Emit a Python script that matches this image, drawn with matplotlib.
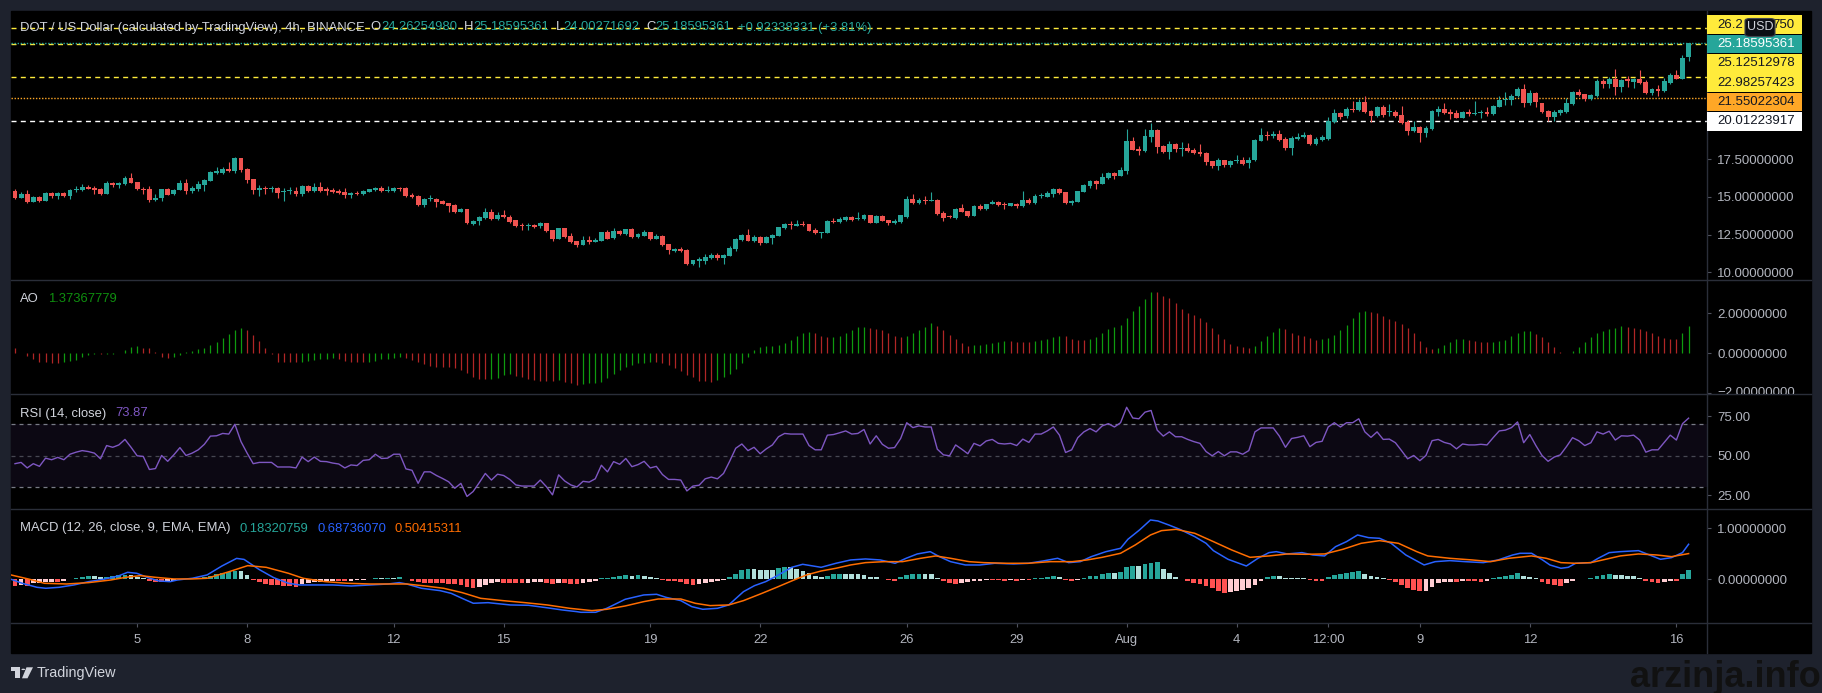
import numpy as np
import pandas as pd
import matplotlib
matplotlib.use("Agg")  # headless
import matplotlib.pyplot as plt
from matplotlib.lines import Line2D
from matplotlib.patches import Rectangle, FancyBboxPatch, Polygon, Circle
from matplotlib.transforms import Bbox, TransformedBbox

plt.rcParams["font.family"] = ["Liberation Sans", "DejaVu Sans"]

# ---------------------------------------------------------------------------
# DOT / USD, 4h candles, BINANCE
# ---------------------------------------------------------------------------
FIRST_BAR = pd.Timestamp("2021-07-01 16:00")

opens = [
    15.39, 14.95, 15.19, 14.69, 14.99, 14.75, 15.26, 15.06, 15.26, 15.06,
    15.46, 15.46, 15.66, 15.60, 15.55, 15.20, 15.95, 15.82, 15.86, 16.26,
    15.99, 15.55, 15.55, 14.80, 14.93, 15.53, 15.20, 15.46, 15.93, 15.40,
    15.53, 15.79, 16.06, 16.60, 16.61, 16.86, 16.75, 17.59, 16.86, 16.19,
    15.46, 15.60, 15.55, 15.60, 15.33, 15.37, 15.37, 15.20, 15.73, 15.39,
    15.66, 15.53, 15.48, 15.42, 15.33, 15.10, 15.26, 15.20, 15.33, 15.46,
    15.60, 15.39, 15.42, 15.60, 15.60, 15.13, 15.06, 14.46, 14.84, 14.86,
    14.73, 14.60, 14.46, 14.00, 14.20, 13.20, 13.40, 13.60, 14.00, 13.53,
    13.80, 13.69, 13.47, 13.13, 13.07, 13.13, 13.07, 13.27, 12.80, 12.20,
    12.94, 12.40, 12.07, 11.81, 12.14, 12.00, 12.07, 12.67, 12.27, 12.74,
    12.54, 12.87, 12.34, 12.40, 12.67, 12.20, 12.40, 11.87, 11.41, 11.54,
    11.47, 10.54, 10.78, 10.74, 10.94, 11.14, 10.94, 11.07, 11.54, 12.14,
    12.47, 12.07, 12.34, 11.94, 12.27, 12.40, 12.94, 13.20, 13.07, 13.20,
    13.20, 12.80, 12.60, 12.60, 13.40, 13.33, 13.47, 13.67, 13.53, 13.53,
    13.80, 13.27, 13.73, 13.47, 13.27, 13.33, 13.67, 14.86, 14.60, 14.80,
    14.73, 14.80, 13.93, 13.73, 13.60, 14.26, 14.06, 13.73, 14.40, 14.20,
    14.53, 14.67, 14.56, 14.42, 14.56, 14.40, 14.80, 14.60, 15.05, 15.02,
    15.22, 15.55, 15.33, 14.62, 14.67, 15.33, 15.73, 16.06, 15.86, 16.26,
    16.60, 16.40, 16.73, 18.72, 18.19, 18.06, 19.01, 19.45, 18.39, 17.99,
    18.52, 18.19, 18.25, 18.12, 17.99, 17.92, 17.39, 17.06, 17.46, 17.13,
    17.37, 17.46, 17.26, 17.46, 18.72, 19.12, 19.05, 19.19, 18.85, 18.26,
    18.85, 18.99, 19.12, 18.52, 18.79, 18.85, 19.98, 20.58, 20.38, 20.85,
    20.78, 21.31, 20.71, 20.38, 20.98, 20.63, 20.65, 20.45, 19.98, 19.38,
    19.65, 19.25, 19.52, 20.65, 20.85, 20.65, 20.58, 20.25, 20.65, 20.51,
    20.58, 20.65, 20.51, 21.00, 21.44, 21.46, 21.70, 22.17, 21.21, 21.90,
    21.24, 20.70, 20.33, 20.60, 20.64, 21.19, 21.97, 21.83, 21.48, 21.70,
    22.70, 22.52, 22.83, 22.32, 22.81, 22.65, 22.83, 22.63, 21.90, 22.19,
    22.06, 22.59, 23.10, 22.85, 24.26,
]
highs = [
    15.50, 15.35, 15.46, 15.05, 15.06, 15.30, 15.32, 15.30, 15.30, 15.56,
    15.70, 15.85, 15.80, 15.72, 15.58, 16.06, 16.00, 16.00, 16.38, 16.58,
    16.02, 15.65, 15.74, 15.20, 15.56, 15.58, 15.50, 16.14, 16.17, 15.76,
    16.06, 16.16, 16.70, 16.98, 16.98, 17.32, 17.65, 17.60, 16.94, 16.20,
    15.80, 15.72, 15.72, 15.66, 15.60, 15.64, 15.64, 15.80, 15.78, 15.92,
    15.98, 15.68, 15.62, 15.50, 15.60, 15.34, 15.40, 15.44, 15.56, 15.64,
    15.72, 15.72, 15.66, 15.67, 15.66, 15.24, 15.12, 14.92, 15.12, 14.96,
    14.80, 14.62, 14.52, 14.27, 14.22, 13.46, 13.76, 14.26, 14.18, 13.98,
    14.13, 13.80, 13.48, 13.25, 13.24, 13.20, 13.36, 13.30, 12.80, 12.94,
    12.96, 12.60, 12.10, 12.40, 12.38, 12.28, 12.70, 12.78, 12.94, 12.80,
    12.90, 12.92, 12.64, 12.80, 12.70, 12.54, 12.46, 11.90, 11.60, 11.70,
    11.54, 10.82, 11.00, 11.20, 11.26, 11.30, 11.20, 11.72, 12.25, 12.52,
    12.85, 12.50, 12.40, 12.40, 12.56, 13.00, 13.30, 13.40, 13.50, 13.40,
    13.20, 12.96, 12.68, 13.46, 13.60, 13.70, 13.74, 13.74, 14.00, 13.84,
    13.82, 13.78, 13.78, 13.50, 13.52, 13.80, 15.04, 15.18, 14.90, 15.06,
    15.30, 14.86, 14.10, 13.80, 14.28, 14.50, 14.06, 14.44, 14.52, 14.56,
    14.82, 14.70, 14.68, 14.62, 14.62, 15.40, 14.90, 15.20, 15.24, 15.40,
    15.62, 15.60, 15.33, 14.80, 15.42, 15.86, 16.10, 16.10, 16.60, 16.64,
    16.68, 16.96, 19.52, 18.96, 18.40, 19.52, 19.90, 19.50, 18.48, 18.72,
    18.60, 18.62, 18.56, 18.24, 18.52, 17.98, 17.40, 17.60, 17.48, 17.46,
    17.78, 17.62, 17.62, 18.82, 19.58, 19.38, 19.40, 19.42, 18.95, 19.06,
    19.26, 19.34, 19.20, 18.96, 19.12, 20.30, 20.82, 20.66, 20.96, 21.40,
    21.52, 21.71, 20.74, 21.02, 21.08, 21.16, 20.80, 21.04, 20.08, 20.06,
    19.70, 19.72, 20.78, 21.02, 21.24, 20.86, 20.74, 20.70, 20.86, 21.38,
    20.74, 21.00, 21.12, 21.72, 21.98, 21.86, 22.30, 22.50, 22.08, 21.96,
    21.26, 20.80, 20.74, 20.84, 21.56, 22.06, 22.16, 21.86, 21.84, 22.80,
    22.82, 22.98, 23.50, 22.86, 23.06, 22.90, 23.40, 22.78, 22.24, 22.44,
    22.88, 23.20, 23.45, 24.42, 25.19,
]
lows = [
    14.85, 14.90, 14.62, 14.64, 14.66, 14.70, 14.90, 14.86, 15.00, 14.88,
    15.36, 15.40, 15.50, 15.18, 15.14, 15.20, 15.65, 15.60, 15.82, 15.90,
    15.44, 15.22, 14.68, 14.75, 14.72, 15.10, 15.12, 15.44, 15.22, 15.24,
    15.40, 15.40, 16.04, 16.50, 16.50, 16.68, 16.62, 16.65, 15.90, 15.20,
    15.08, 15.20, 15.30, 14.94, 14.75, 15.20, 15.08, 15.08, 15.30, 15.34,
    15.30, 15.16, 15.24, 15.22, 14.96, 14.96, 15.10, 15.10, 15.30, 15.40,
    15.36, 15.36, 15.34, 15.40, 15.00, 14.90, 14.40, 14.34, 14.70, 14.36,
    14.50, 13.98, 13.94, 13.98, 13.18, 13.16, 13.16, 13.56, 13.50, 13.50,
    13.62, 13.28, 13.00, 12.82, 12.84, 12.96, 12.96, 12.70, 12.10, 12.20,
    12.26, 11.96, 11.70, 11.81, 11.86, 11.98, 12.05, 12.18, 12.24, 12.48,
    12.50, 12.30, 12.30, 12.38, 12.14, 12.20, 11.76, 11.22, 11.36, 11.38,
    10.48, 10.48, 10.38, 10.58, 10.90, 10.80, 10.58, 11.05, 11.40, 12.10,
    12.05, 12.02, 11.80, 11.92, 11.88, 12.38, 12.86, 12.90, 13.04, 13.05,
    12.72, 12.55, 12.30, 12.58, 13.30, 13.25, 13.40, 13.40, 13.50, 13.48,
    13.26, 13.24, 13.38, 13.16, 13.20, 13.26, 13.60, 14.50, 14.50, 14.50,
    14.72, 13.80, 13.40, 13.60, 13.54, 13.98, 13.66, 13.72, 14.16, 14.16,
    14.50, 14.38, 14.20, 14.40, 14.30, 14.36, 14.56, 14.50, 14.92, 14.98,
    15.00, 15.20, 14.52, 14.46, 14.66, 15.30, 15.58, 15.56, 15.86, 16.16,
    16.16, 16.38, 16.50, 18.10, 17.80, 17.96, 18.62, 17.94, 17.90, 17.55,
    18.00, 17.72, 17.98, 17.82, 17.72, 17.10, 16.90, 16.82, 17.00, 16.98,
    17.28, 17.10, 16.92, 17.42, 18.70, 18.80, 18.92, 18.72, 18.10, 17.76,
    18.80, 18.90, 18.48, 18.46, 18.70, 18.76, 19.88, 20.20, 20.22, 20.62,
    20.70, 20.58, 19.96, 20.30, 20.28, 20.40, 20.34, 19.86, 19.08, 19.28,
    18.68, 19.00, 19.42, 20.40, 20.52, 20.20, 20.22, 20.22, 20.40, 20.44,
    20.22, 20.40, 20.46, 20.94, 21.10, 21.10, 21.66, 20.94, 21.10, 21.00,
    20.58, 20.05, 20.04, 20.42, 20.60, 21.10, 21.68, 21.34, 21.46, 21.62,
    22.26, 22.26, 21.80, 22.00, 22.28, 22.20, 22.48, 21.82, 21.80, 21.70,
    21.96, 22.50, 22.80, 22.80, 24.00,
]
closes = [
    14.95, 15.17, 14.69, 14.99, 14.75, 15.26, 15.06, 15.26, 15.06, 15.46,
    15.55, 15.66, 15.55, 15.46, 15.20, 15.93, 15.82, 15.93, 16.26, 15.93,
    15.55, 15.46, 14.80, 14.95, 15.53, 15.13, 15.46, 15.93, 15.42, 15.60,
    15.86, 16.12, 16.66, 16.72, 16.86, 16.72, 17.59, 16.79, 16.12, 15.46,
    15.60, 15.55, 15.60, 15.26, 15.37, 15.40, 15.20, 15.73, 15.39, 15.66,
    15.39, 15.42, 15.33, 15.26, 15.10, 15.26, 15.20, 15.39, 15.50, 15.60,
    15.39, 15.46, 15.60, 15.50, 15.06, 14.99, 14.46, 14.86, 14.88, 14.66,
    14.53, 14.40, 14.00, 14.22, 13.27, 13.40, 13.67, 14.00, 13.53, 13.80,
    13.64, 13.33, 13.07, 13.07, 13.13, 13.00, 13.27, 12.76, 12.20, 12.94,
    12.34, 12.00, 11.81, 12.14, 12.00, 12.14, 12.67, 12.20, 12.71, 12.54,
    12.87, 12.34, 12.54, 12.67, 12.20, 12.40, 11.81, 11.47, 11.54, 11.41,
    10.54, 10.81, 10.81, 11.01, 11.14, 10.94, 11.14, 11.60, 12.20, 12.47,
    12.07, 12.34, 11.94, 12.34, 12.47, 13.00, 13.20, 13.13, 13.20, 13.13,
    12.74, 12.60, 12.67, 13.40, 13.33, 13.53, 13.67, 13.47, 13.60, 13.80,
    13.27, 13.73, 13.40, 13.27, 13.40, 13.80, 14.86, 14.60, 14.80, 14.73,
    14.80, 13.87, 13.60, 13.67, 14.20, 14.00, 13.73, 14.40, 14.20, 14.53,
    14.66, 14.47, 14.49, 14.58, 14.42, 14.80, 14.60, 15.07, 15.10, 15.29,
    15.55, 15.26, 14.60, 14.76, 15.40, 15.80, 16.06, 15.86, 16.33, 16.60,
    16.40, 16.80, 18.72, 18.12, 18.06, 19.05, 19.45, 18.32, 17.99, 18.52,
    18.19, 18.25, 18.06, 17.92, 17.86, 17.32, 17.06, 17.46, 17.13, 17.39,
    17.41, 17.19, 17.46, 18.79, 19.12, 19.05, 19.19, 18.79, 18.26, 18.92,
    18.99, 19.12, 18.52, 18.85, 18.99, 20.05, 20.58, 20.31, 20.85, 20.78,
    21.31, 20.65, 20.38, 20.98, 20.45, 20.67, 20.38, 19.92, 19.38, 19.65,
    19.25, 19.58, 20.71, 20.85, 20.58, 20.51, 20.25, 20.65, 20.51, 20.58,
    20.65, 20.51, 21.05, 21.44, 21.51, 21.68, 22.17, 21.21, 21.90, 21.28,
    20.66, 20.33, 20.64, 20.77, 21.26, 21.97, 21.79, 21.48, 21.79, 22.70,
    22.52, 22.83, 22.32, 22.76, 22.68, 22.83, 22.56, 21.90, 22.19, 22.06,
    22.70, 23.10, 22.83, 24.23, 25.19,
]

# Awesome Oscillator, one bar per candle
ao = [
    0.25, 0.02, -0.13, -0.30, -0.42, -0.43, -0.47, -0.47, -0.42, -0.37,
    -0.33, -0.20, -0.10, -0.05, -0.05, -0.03, -0.02, 0.00, 0.17, 0.33,
    0.37, 0.28, 0.25, 0.08, -0.20, -0.22, -0.20, -0.10, 0.07, 0.12,
    0.20, 0.28, 0.40, 0.57, 0.75, 0.97, 1.17, 1.25, 1.17, 0.92,
    0.62, 0.27, -0.05, -0.43, -0.45, -0.45, -0.45, -0.43, -0.40, -0.33,
    -0.30, -0.27, -0.23, -0.27, -0.37, -0.43, -0.43, -0.43, -0.42, -0.38,
    -0.30, -0.27, -0.22, -0.20, -0.23, -0.33, -0.43, -0.53, -0.63, -0.67,
    -0.67, -0.70, -0.73, -0.83, -0.97, -1.17, -1.30, -1.30, -1.28, -1.22,
    -1.10, -1.05, -1.13, -1.20, -1.27, -1.33, -1.37, -1.37, -1.37, -1.33,
    -1.43, -1.50, -1.58, -1.53, -1.50, -1.47, -1.42, -1.25, -1.03, -0.83,
    -0.67, -0.57, -0.50, -0.47, -0.42, -0.43, -0.47, -0.58, -0.72, -0.87,
    -1.07, -1.20, -1.37, -1.37, -1.42, -1.33, -1.17, -1.03, -0.80, -0.47,
    -0.17, 0.17, 0.30, 0.37, 0.38, 0.42, 0.53, 0.67, 0.87, 1.03,
    1.08, 1.03, 0.87, 0.80, 0.83, 0.87, 1.03, 1.17, 1.33, 1.34,
    1.25, 1.20, 1.17, 1.03, 0.87, 0.80, 0.87, 1.03, 1.17, 1.33,
    1.53, 1.37, 1.17, 0.92, 0.70, 0.50, 0.37, 0.40, 0.43, 0.47,
    0.50, 0.55, 0.62, 0.60, 0.58, 0.57, 0.56, 0.62, 0.67, 0.73,
    0.80, 0.87, 0.87, 0.72, 0.67, 0.66, 0.70, 0.83, 1.03, 1.20,
    1.33, 1.42, 1.75, 2.13, 2.37, 2.70, 3.05, 3.05, 2.87, 2.75,
    2.50, 2.22, 2.03, 1.92, 1.78, 1.55, 1.25, 0.97, 0.70, 0.47,
    0.37, 0.30, 0.25, 0.37, 0.62, 0.87, 1.07, 1.27, 1.20, 1.00,
    0.92, 0.87, 0.77, 0.69, 0.70, 0.77, 0.92, 1.17, 1.42, 1.77,
    2.05, 2.12, 2.07, 2.00, 1.87, 1.72, 1.60, 1.47, 1.25, 1.00,
    0.62, 0.33, 0.22, 0.25, 0.42, 0.58, 0.71, 0.72, 0.67, 0.63,
    0.58, 0.57, 0.58, 0.62, 0.67, 0.87, 1.03, 1.13, 1.14, 0.97,
    0.83, 0.58, 0.33, 0.07, 0.03, 0.13, 0.33, 0.57, 0.80, 1.03,
    1.13, 1.23, 1.28, 1.37, 1.30, 1.25, 1.20, 1.13, 1.03, 0.87,
    0.75, 0.72, 0.72, 1.03, 1.37,
]

# RSI(14), one point per candle
rsi = [
    45.0, 45.8, 42.3, 45.0, 43.3, 48.5, 47.5, 49.0, 47.5, 51.0,
    52.3, 53.3, 52.7, 51.7, 48.1, 56.5, 55.4, 56.9, 60.4, 55.4,
    50.0, 49.6, 41.3, 41.9, 50.2, 46.5, 50.6, 55.2, 50.2, 51.7,
    53.8, 57.3, 62.5, 62.7, 64.2, 63.8, 70.0, 59.0, 51.7, 45.0,
    45.8, 45.8, 45.8, 42.9, 42.9, 42.9, 42.3, 49.2, 46.3, 49.2,
    46.5, 46.3, 45.4, 44.8, 42.3, 44.2, 43.8, 47.1, 47.5, 51.0,
    48.3, 48.5, 51.0, 51.0, 41.7, 40.8, 32.5, 39.8, 39.8, 37.5,
    35.6, 33.5, 29.4, 32.5, 24.2, 27.3, 32.9, 38.8, 34.6, 38.3,
    37.5, 35.0, 31.5, 30.8, 30.8, 30.8, 34.6, 30.4, 25.2, 37.9,
    34.0, 31.5, 30.2, 33.8, 33.3, 35.4, 44.0, 39.8, 46.3, 44.6,
    48.3, 43.1, 44.4, 46.5, 42.3, 43.3, 38.1, 35.0, 35.0, 34.6,
    27.7, 30.8, 31.3, 35.4, 36.5, 35.4, 38.8, 46.5, 54.8, 57.5,
    53.3, 55.4, 51.3, 54.4, 56.9, 62.1, 64.2, 63.8, 63.8, 63.8,
    56.5, 53.8, 53.8, 63.1, 63.5, 64.6, 65.8, 63.8, 64.2, 66.7,
    57.5, 62.7, 57.3, 54.8, 55.2, 61.0, 71.0, 67.9, 69.0, 68.3,
    68.3, 54.2, 50.6, 50.0, 56.9, 54.2, 51.3, 57.9, 56.3, 59.4,
    60.4, 57.9, 57.5, 57.9, 56.5, 60.6, 58.5, 63.8, 63.8, 65.8,
    68.3, 63.1, 52.1, 53.8, 61.5, 65.2, 67.3, 65.2, 69.0, 70.4,
    68.3, 71.0, 80.8, 74.0, 73.5, 77.7, 78.8, 66.3, 62.5, 65.2,
    62.1, 62.1, 60.4, 59.0, 57.9, 52.7, 50.0, 52.7, 50.0, 52.5,
    52.5, 51.0, 53.3, 65.2, 67.7, 67.7, 67.7, 62.5, 55.4, 61.0,
    61.7, 62.7, 55.8, 58.5, 59.2, 68.3, 71.0, 68.3, 71.0, 71.0,
    73.5, 65.2, 61.7, 65.2, 60.4, 60.6, 58.3, 53.3, 48.1, 50.2,
    46.9, 50.2, 59.6, 60.4, 58.5, 57.5, 54.4, 57.5, 56.9, 56.9,
    57.3, 56.9, 61.5, 65.8, 66.3, 67.9, 71.5, 58.3, 63.5, 56.5,
    50.2, 46.5, 49.2, 50.6, 55.8, 61.5, 59.6, 56.5, 58.3, 65.2,
    63.8, 65.6, 60.0, 62.7, 62.5, 63.1, 60.0, 52.3, 53.8, 53.8,
    58.5, 63.1, 60.0, 70.4, 73.9,
]

# MACD(12, 26, 9) histogram, one bar per candle
macd_hist = [
    -0.13, -0.12, -0.13, -0.08, -0.07, -0.06, -0.05, -0.05, -0.04, 0.01,
    0.03, 0.05, 0.06, 0.06, 0.04, 0.05, 0.06, 0.08, 0.09, 0.08,
    0.05, 0.03, -0.03, -0.05, -0.06, -0.05, -0.03, 0.00, 0.01, 0.00,
    0.02, 0.04, 0.07, 0.10, 0.12, 0.14, 0.17, 0.16, 0.08, -0.02,
    -0.06, -0.10, -0.12, -0.12, -0.13, -0.14, -0.15, -0.10, -0.07, -0.06,
    -0.05, -0.04, -0.03, -0.04, -0.04, -0.03, -0.02, -0.01, 0.01, 0.02,
    0.02, 0.03, 0.03, 0.04, 0.01, -0.03, -0.06, -0.07, -0.08, -0.08,
    -0.08, -0.09, -0.10, -0.12, -0.15, -0.18, -0.16, -0.12, -0.08, -0.06,
    -0.07, -0.07, -0.07, -0.08, -0.07, -0.06, -0.05, -0.07, -0.09, -0.07,
    -0.08, -0.09, -0.10, -0.07, -0.05, -0.03, 0.02, 0.03, 0.05, 0.07,
    0.08, 0.07, 0.08, 0.07, 0.05, 0.03, -0.01, -0.03, -0.04, -0.06,
    -0.10, -0.12, -0.10, -0.07, -0.05, -0.03, -0.02, 0.05, 0.11, 0.18,
    0.20, 0.20, 0.19, 0.19, 0.19, 0.23, 0.24, 0.24, 0.20, 0.16,
    0.12, 0.06, 0.05, 0.07, 0.10, 0.11, 0.11, 0.10, 0.10, 0.08,
    0.05, 0.04, 0.01, -0.02, -0.04, 0.05, 0.08, 0.10, 0.11, 0.10,
    0.10, 0.03, -0.04, -0.07, -0.10, -0.08, -0.06, -0.04, -0.03, -0.02,
    -0.02, -0.02, -0.03, -0.02, -0.03, -0.02, -0.02, 0.02, 0.03, 0.05,
    0.07, 0.04, -0.02, -0.04, -0.02, 0.03, 0.06, 0.07, 0.11, 0.13,
    0.12, 0.15, 0.24, 0.27, 0.27, 0.30, 0.32, 0.33, 0.20, 0.12,
    0.05, 0.01, -0.03, -0.07, -0.10, -0.14, -0.18, -0.22, -0.26, -0.25,
    -0.22, -0.20, -0.18, -0.12, -0.03, 0.04, 0.07, 0.06, 0.03, 0.02,
    0.02, 0.02, -0.02, -0.03, -0.04, 0.05, 0.08, 0.10, 0.12, 0.14,
    0.16, 0.10, 0.07, 0.05, 0.02, -0.02, -0.05, -0.12, -0.17, -0.20,
    -0.23, -0.22, -0.15, -0.08, -0.06, -0.05, -0.05, -0.04, -0.04, -0.04,
    -0.05, -0.04, 0.02, 0.05, 0.07, 0.09, 0.12, 0.06, 0.05, 0.02,
    -0.05, -0.10, -0.12, -0.13, -0.08, -0.04, 0.01, 0.01, 0.02, 0.07,
    0.09, 0.10, 0.08, 0.08, 0.07, 0.06, 0.03, -0.03, -0.05, -0.07,
    -0.05, -0.03, -0.03, 0.10, 0.18,
]

# MACD and signal lines (bar position, value)
macd_x = [
    -0.64, 1.18, 3.6, 5.05, 7.23, 9.65, 12.07, 14.49, 16.92, 18.43,
    19.94, 21.76, 23.57, 25.39, 26.6, 29.02, 31.44, 33.86, 36.28, 37.5,
    39.92, 42.34, 44.76, 46.58, 49.0, 52.03, 55.05, 58.08, 61.1, 62.92,
    64.13, 66.55, 69.58, 71.4, 73.2, 75.03, 77.45, 81.08, 84.1, 87.74,
    89.56, 91.97, 92.64, 95.06, 96.88, 99.9, 102.93, 105.05, 106.56, 109.0,
    110.8, 112.6, 115.0, 116.85, 119.27, 121.08, 122.9, 124.7, 127.15, 128.96,
    131.98, 134.4, 136.8, 139.25, 141.67, 144.09, 145.9, 147.72, 149.84, 151.35,
    153.17, 155.59, 158.0, 160.4, 163.5, 165.9, 168.3, 170.7, 172.5, 174.4,
    176.2, 178.6, 181.0, 182.2, 184.1, 185.9, 187.1, 188.9, 190.7, 193.15,
    195.0, 196.2, 198.6, 201.6, 203.5, 205.3, 206.5, 208.3, 210.7, 212.5,
    214.4, 216.2, 218.0, 219.8, 221.6, 223.4, 225.3, 227.7, 230.7, 232.5,
    234.9, 237.4, 240.4, 242.8, 245.2, 246.4, 248.3, 250.1, 251.3, 253.1,
    254.3, 255.5, 258.0, 259.2, 261.0, 262.8, 265.8, 267.6, 269.4, 271.2,
    273.0, 274.0,
]
macd_y = [
    0.0, -0.078, -0.157, -0.176, -0.157, -0.111, -0.046, 0.0, 0.065, 0.137,
    0.118, 0.033, -0.033, -0.046, -0.013, 0.02, 0.085, 0.26, 0.41, 0.39,
    0.196, 0.033, -0.078, -0.111, -0.111, -0.111, -0.131, -0.111, -0.092, -0.065,
    -0.092, -0.176, -0.222, -0.275, -0.373, -0.47, -0.458, -0.503, -0.51, -0.569,
    -0.601, -0.634, -0.647, -0.647, -0.569, -0.392, -0.307, -0.294, -0.353, -0.418,
    -0.536, -0.588, -0.569, -0.503, -0.242, -0.124, -0.046, 0.065, 0.235, 0.294,
    0.235, 0.314, 0.379, 0.399, 0.379, 0.314, 0.412, 0.497, 0.542, 0.444,
    0.346, 0.281, 0.281, 0.314, 0.301, 0.314, 0.359, 0.412, 0.327, 0.346,
    0.444, 0.542, 0.608, 0.784, 0.967, 1.163, 1.144, 1.065, 0.98, 0.837,
    0.706, 0.562, 0.392, 0.261, 0.412, 0.523, 0.542, 0.497, 0.523, 0.477,
    0.458, 0.64, 0.739, 0.869, 0.817, 0.804, 0.706, 0.477, 0.281, 0.346,
    0.366, 0.346, 0.327, 0.379, 0.477, 0.51, 0.51, 0.379, 0.281, 0.216,
    0.235, 0.314, 0.327, 0.412, 0.523, 0.542, 0.562, 0.477, 0.392, 0.425,
    0.523, 0.687,
]
signal_x = [
    -0.64, 2.39, 4.81, 8.44, 12.07, 15.7, 18.13, 20.55, 22.97, 26.0,
    29.02, 31.44, 35.08, 38.1, 41.13, 44.76, 47.18, 50.8, 54.44, 58.08,
    61.1, 64.13, 67.16, 70.18, 73.2, 76.24, 79.87, 83.5, 87.13, 90.82,
    94.45, 96.88, 99.9, 102.93, 105.3, 109.0, 111.4, 113.8, 116.85, 119.27,
    122.3, 124.7, 127.15, 129.57, 131.98, 134.4, 136.8, 139.25, 142.27, 145.3,
    148.3, 150.75, 153.17, 156.2, 158.6, 162.3, 165.9, 169.5, 173.1, 175.5,
    178.0, 181.0, 183.4, 185.9, 187.7, 190.1, 193.15, 196.2, 199.2, 202.2,
    205.3, 208.3, 211.3, 214.4, 217.4, 220.4, 223.4, 226.5, 229.5, 231.3,
    234.9, 238.6, 241.6, 244.6, 248.3, 250.7, 253.1, 255.5, 258.0, 260.4,
    262.8, 265.8, 268.8, 271.2, 274.0,
]
signal_y = [
    0.085, 0.0, -0.078, -0.092, -0.065, -0.013, 0.039, 0.072, 0.039, 0.007,
    0.007, 0.02, 0.15, 0.268, 0.235, 0.118, 0.02, -0.046, -0.078, -0.092,
    -0.092, -0.092, -0.131, -0.176, -0.261, -0.373, -0.418, -0.458, -0.503, -0.569,
    -0.614, -0.588, -0.523, -0.438, -0.386, -0.386, -0.471, -0.516, -0.503, -0.418,
    -0.275, -0.157, -0.033, 0.085, 0.163, 0.216, 0.281, 0.327, 0.346, 0.346,
    0.412, 0.458, 0.412, 0.346, 0.327, 0.314, 0.314, 0.346, 0.346, 0.379,
    0.431, 0.51, 0.673, 0.869, 0.954, 0.98, 0.902, 0.739, 0.575, 0.431,
    0.458, 0.497, 0.49, 0.497, 0.588, 0.706, 0.758, 0.706, 0.542, 0.458,
    0.412, 0.379, 0.346, 0.412, 0.458, 0.412, 0.327, 0.314, 0.327, 0.392,
    0.458, 0.497, 0.477, 0.444, 0.504,
]

# time axis labels
tick_times = ["2021-07-05", "2021-07-08", "2021-07-12", "2021-07-15", "2021-07-19",
              "2021-07-22", "2021-07-26", "2021-07-29", "2021-08-01", "2021-08-04",
              "2021-08-06 12:00", "2021-08-09", "2021-08-12", "2021-08-16"]
tick_labels = ["5", "8", "12", "15", "19", "22", "26", "29", "Aug", "4",
               "12:00", "9", "12", "16"]

# horizontal levels drawn on the chart (high to low)
level_prices = [26.20467750, 25.18595361, 25.12512978, 22.98257423, 21.55022304, 20.01223917]
level_colors = ["#FFEB3B", "#26A69A", "#FFEB3B", "#FFEB3B", "#FFA726", "#FFFFFF"]
level_styles = ["dashed", "dotted", "dashed", "dashed", "dotted", "dashed"]
level_label_fg = ["#131722", "#FFFFFF", "#131722", "#131722", "#131722", "#131722"]

assert len(opens) == len(highs) == len(lows) == len(closes) == len(ao) == len(rsi) == len(macd_hist)
assert len(macd_x) == len(macd_y) and len(signal_x) == len(signal_y)

# ---------------------------------------------------------------------------
# layout (screen pixels of the 1822x693 screenshot)
# ---------------------------------------------------------------------------
W, H = 1822, 693
LEFT, AXIS_X, RIGHT = 11, 1707, 1811
TOP, BOTTOM = 11, 653
BAR_PX, X0_PX = 6.108, 15.0          # candle spacing and centre of first candle

BG = "#1E222D"
SEP = "#2A2E39"
TXT = "#B2B5BE"
LEG = "#D1D4DC"
TICK = "#50535E"
UP, DOWN = "#26A69A", "#EF5350"
FS = 9.4

fig = plt.figure(figsize=(W / 100, H / 100), dpi=100, facecolor=BG)
renderer = fig.canvas.get_renderer()


def fx(x):
    return x / W


def fy(y):
    return 1 - y / H


def text_width(s, size):
    t = fig.text(0, 0, s, fontsize=size)
    w = t.get_window_extent(renderer).width
    t.remove()
    return w


def make_pane(top, bot, ref_a, ref_b):
    """Axes spanning screen rows top..bot; ref_* = (value, pixel row) pairs from the axis."""
    ax = fig.add_axes([fx(LEFT), fy(bot), fx(AXIS_X) - fx(LEFT), fy(top) - fy(bot)])
    (va, pa), (vb, pb) = ref_a, ref_b
    per_px = (va - vb) / (pb - pa)
    ax.set_ylim(vb - (bot - pb) * per_px, va + (pa - top) * per_px)
    ax.set_xlim((LEFT - X0_PX) / BAR_PX, (AXIS_X - X0_PX) / BAR_PX)
    ax.set_facecolor("black")
    for s in ax.spines.values():
        s.set_visible(False)
    ax.tick_params(axis="x", bottom=False, labelbottom=False)
    ax.yaxis.tick_right()
    ax.tick_params(axis="y", length=3.2, width=0.8, color=TICK, pad=4,
                   labelsize=9.5, labelcolor=TXT)
    return ax


def chain(x, y_base, parts, size=FS):
    """Write coloured text runs one after another on a common baseline."""
    for s, c, gap in parts:
        t = fig.text(fx(x), fy(y_base), s, color=c, fontsize=size,
                     ha="left", va="baseline")
        x += t.get_window_extent(renderer).width + gap


# backdrop: black chart area inside the navy frame
fig.add_artist(Rectangle((fx(LEFT), fy(BOTTOM)), fx(RIGHT) - fx(LEFT), fy(TOP) - fy(BOTTOM),
                         transform=fig.transFigure, color="black", zorder=-5))

x = np.arange(len(closes))

# ---- price pane ----
axp = make_pane(11, 280, (17.5, 159.3), (10.0, 272.3))
o, hi, lo, c = (np.array(v) for v in (opens, highs, lows, closes))
ccol = np.where(c >= o, UP, DOWN)
axp.vlines(x, np.minimum(lo, np.minimum(o, c)), np.maximum(hi, np.maximum(o, c)),
           colors=ccol, lw=0.8, zorder=4)
body_lo = np.minimum(o, c)
body_h = np.maximum(np.abs(c - o), 0.07)
axp.bar(x, body_h, bottom=body_lo, width=0.8, color=ccol, lw=0, zorder=5)

styles = {"dashed": (0, (3.6, 3.1)), "dotted": (0, (1.0, 1.2))}
for p, col, st in zip(level_prices, level_colors, level_styles):
    axp.axhline(p, color=col, lw=1.0, ls=styles[st], zorder=3 if st == "dotted" else 2)

axp.set_yticks([10, 12.5, 15, 17.5])
axp.yaxis.set_major_formatter(plt.FormatStrFormatter("%.8f"))

# price labels on the axis, packed into one block resting on the lowest level
LABEL_H = 19.35
BADGE_X0, BADGE_X1 = 1745, 1775   # "USD" badge sits on top of the first label


def price_px(p):
    return 159.3 + (17.5 - p) * (113.0 / 7.5)


base = price_px(level_prices[-1])
n = len(level_prices)
for k, (p, col, fg) in enumerate(zip(level_prices, level_colors, level_label_fg)):
    yc = base - (n - 1 - k) * LABEL_H
    fig.add_artist(Rectangle((fx(AXIS_X), fy(yc + LABEL_H / 2 - 0.3)), fx(1802) - fx(AXIS_X),
                             fy(yc - LABEL_H / 2 + 0.3) - fy(yc + LABEL_H / 2 - 0.3),
                             transform=fig.transFigure, color=col, lw=0, zorder=5))
    s = f"{p:.8f}"
    if k == 0:
        # only the ends of this label peek out around the badge
        full = text_width(s, 9.5)
        fig.text(fx(1717), fy(yc), s[:4], color=fg, fontsize=9.5, ha="left", va="center",
                 zorder=6)
        fig.text(fx(1717 + full), fy(yc), s[-3:], color=fg, fontsize=9.5, ha="right",
                 va="center", zorder=6)
    else:
        fig.text(fx(1717), fy(yc), s, color=fg, fontsize=9.5, ha="left", va="center",
                 zorder=6)

# currency badge
fig.add_artist(FancyBboxPatch((fx(BADGE_X0), fy(36.5)), fx(BADGE_X1) - fx(BADGE_X0),
                              fy(18.5) - fy(36.5),
                              boxstyle="round,pad=0,rounding_size=0.003",
                              transform=fig.transFigure, facecolor="#0C0E15",
                              edgecolor="#434651", lw=0.8, zorder=7))
fig.text(fx((BADGE_X0 + BADGE_X1) / 2), fy(27.5), "USD", color="#D1D4DC", fontsize=9,
         ha="center", va="center", zorder=8)

# ---- Awesome Oscillator ----
axa = make_pane(280, 394, (2.0, 313.3), (0.0, 353.3))
ao_v = np.array(ao)
ao_up = np.r_[False, np.diff(ao_v) > 0]
axa.vlines(x, 0, ao_v, colors=np.where(ao_up, "#0F9A0F", "#B02626"), lw=0.9)
axa.set_yticks([-2, 0, 2], ["", "0.00000000", "2.00000000"])
clip = TransformedBbox(Bbox.from_extents(fx(AXIS_X), fy(394), fx(RIGHT), fy(280)),
                       fig.transFigure)
t = fig.text(fx(1717), fy(393.3), "\u22122.00000000", color=TXT, fontsize=9.5,
             ha="left", va="center")
t.set_clip_box(clip)
t.set_clip_on(True)

# ---- RSI ----
axr = make_pane(394, 509, (70, 424.3), (30, 487.3))
axr.axhspan(30, 70, color="#7E57C2", alpha=0.1, lw=0)
for lvl, a in ((70, 1.0), (50, 0.55), (30, 1.0)):
    axr.axhline(lvl, color="#787B86", alpha=a, lw=0.9, ls=(0, (3.2, 3.2)))
axr.plot(x, rsi, color="#7E57C2", lw=1.0)
axr.set_yticks([25, 50, 75])
axr.yaxis.set_major_formatter(plt.FormatStrFormatter("%.2f"))

# ---- MACD ----
axm = make_pane(509, 623, (1.0, 528.3), (0.0, 579.3))
hv = np.array(macd_hist)
prev = np.r_[hv[0], hv[:-1]]
hcol = np.where(hv >= 0, np.where(hv > prev, "#26A69A", "#B2DFDB"),
                np.where(hv > prev, "#FFCDD2", "#FF5252"))
axm.bar(x, hv, width=0.78, color=hcol, lw=0)
axm.plot(macd_x, macd_y, color="#2962FF", lw=1.1)
axm.plot(signal_x, signal_y, color="#FF6D00", lw=1.1)
axm.set_yticks([0, 1])
axm.yaxis.set_major_formatter(plt.FormatStrFormatter("%.8f"))

tick_idx = [(pd.Timestamp(s) - FIRST_BAR) / pd.Timedelta(hours=4) for s in tick_times]
axm.set_xticks(tick_idx, tick_labels)
axm.tick_params(axis="x", bottom=True, labelbottom=True, length=3.2, width=0.8,
                color=TICK, pad=4.5, labelsize=9.4, labelcolor=TXT)

# pane separators
for yy in (280, 394, 509, 623):
    fig.add_artist(Line2D([fx(LEFT), fx(RIGHT)], [fy(yy), fy(yy)], transform=fig.transFigure,
                          color=SEP, lw=1.0, zorder=3))
fig.add_artist(Line2D([fx(AXIS_X), fx(AXIS_X)], [fy(TOP), fy(BOTTOM)], transform=fig.transFigure,
                      color=SEP, lw=1.0, zorder=3))

# ---- legends ----
teal = "#26A69A"
chain(20, 30.5, [
    ("DOT / US Dollar (calculated by TradingView), 4h, BINANCE", LEG, 6),
    ("O", LEG, 0), ("24.26254980", teal, 7),
    ("H", LEG, 0), ("25.18595361", teal, 7),
    ("L", LEG, 0), ("24.00271692", teal, 7),
    ("C", LEG, 0), ("25.18595361", teal, 7),
    ("+0.92338331 (+3.81%)", teal, 0),
])
chain(20, 302.5, [("AO", LEG, 9), ("1.37367779", "#0F8F0F", 0)])
chain(20, 416.5, [("RSI (14, close)", LEG, 9), ("73.87", "#7E57C2", 0)])
chain(20, 531.5, [("MACD (12, 26, close, 9, EMA, EMA)", LEG, 9),
                  ("0.18320759", "#26A69A", 9), ("0.68736070", "#2962FF", 8),
                  ("0.50415311", "#FF6D00", 0)])

# ---- footer: TradingView mark + watermark ----
logo = "#D1D4DC"
fig.add_artist(Polygon([(fx(11), fy(667.3)), (fx(20), fy(667.3)), (fx(20), fy(678.3)),
                        (fx(15.5), fy(678.3)), (fx(15.5), fy(671.2)), (fx(11), fy(671.2))],
                       closed=True, transform=fig.transFigure, color=logo, lw=0))
fig.add_artist(Circle((fx(23.3), fy(669.4)), 1.9 / W, transform=fig.transFigure, color=logo, lw=0))
fig.add_artist(Polygon([(fx(26.5), fy(667.3)), (fx(33), fy(667.3)), (fx(27.5), fy(678.3)),
                        (fx(22), fy(678.3))],
                       closed=True, transform=fig.transFigure, color=logo, lw=0))
fig.text(fx(37), fy(677.5), "TradingView", color=logo, fontsize=10.4, ha="left", va="baseline")
fig.text(fx(1821), fy(687), "arzinja.info", color="#111111", fontsize=26, fontweight="bold",
         ha="right", va="baseline")

fig.savefig("out.png", dpi=100, facecolor=BG)
